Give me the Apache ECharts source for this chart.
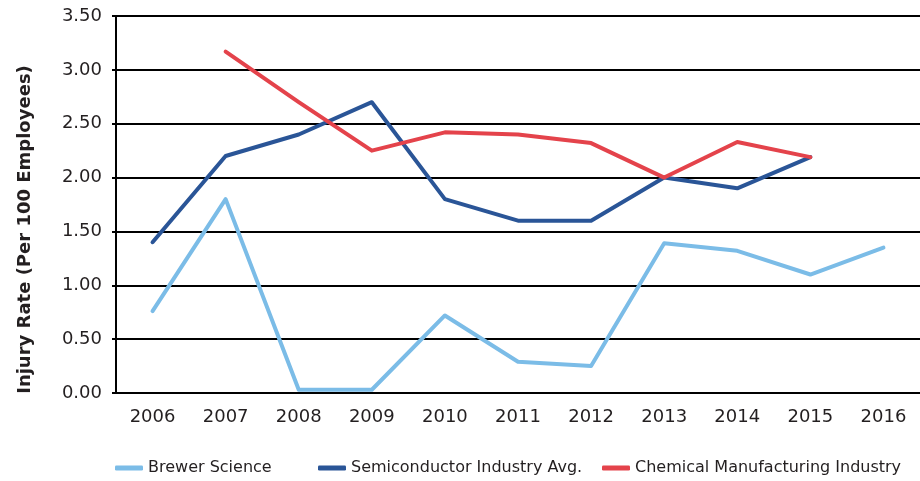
<!DOCTYPE html>
<html>
<head>
<meta charset="utf-8">
<script src="https://cdn.jsdelivr.net/npm/echarts@6/dist/echarts.min.js"></script>
<style>
  html, body { margin: 0; padding: 0; background: #fff; }
  #chart { width: 920px; height: 481px; }
</style>
</head>
<body>
<div id="chart"></div>
<script>
const years = ["2006", "2007", "2008", "2009", "2010", "2011", "2012", "2013", "2014", "2015", "2016"]
const brewer = [0.76, 1.80, 0.03, 0.03, 0.72, 0.29, 0.25, 1.39, 1.32, 1.10, 1.35]
const semiconductor = [1.40, 2.20, 2.40, 2.70, 1.80, 1.60, 1.60, 2.00, 1.90, 2.19, null]
const chemical = [null, 3.17, 2.70, 2.25, 2.42, 2.40, 2.32, 2.00, 2.33, 2.19, null]

const font = "'DejaVu Sans', 'Noto Sans', sans-serif"
const textColor = "#231F20"
const chart = echarts.init(document.getElementById("chart"))

const lineSeries = (name, data, color) => ({
  name,
  type: "line",
  data,
  showSymbol: false,
  symbol: "none",
  lineStyle: { width: 4, color, cap: "round", join: "round" },
  itemStyle: { color },
})

// one legend per item so each sits where the reference puts it
const legendAt = (name, left) => ({
  left,
  top: 455,
  itemWidth: 28,
  itemHeight: 5,
  icon: "roundRect",
  textStyle: { fontSize: 16, color: textColor, fontFamily: font },
  data: [name],
})

chart.setOption({
  animation: false,
  textStyle: { fontFamily: font },
  grid: { left: 116, top: 16, width: 813, height: 377 },
  legend: [
    legendAt("Brewer Science", 110),
    legendAt("Semiconductor Industry Avg.", 313),
    legendAt("Chemical Manufacturing Industry", 597),
  ],
  xAxis: {
    type: "category",
    data: years,
    boundaryGap: true,
    axisLine: { lineStyle: { color: "#000", width: 2 } },
    axisTick: { length: 6, lineStyle: { color: "#000", width: 2 } },
    axisLabel: { color: textColor, fontSize: 18, margin: 15 },
  },
  yAxis: {
    type: "value",
    min: 0,
    max: 3.5,
    interval: 0.5,
    name: "Injury Rate (Per 100 Employees)",
    nameLocation: "middle",
    nameGap: 82,
    nameTextStyle: { fontSize: 18, fontWeight: "bold", color: textColor, padding: [0, 50, 0, 0] },
    axisLine: { show: true, lineStyle: { color: "#000", width: 2 } },
    axisTick: { show: true, length: 4, lineStyle: { color: "#000", width: 2 } },
    splitLine: { lineStyle: { color: "#000", width: 2 } },
    axisLabel: { color: textColor, fontSize: 18, margin: 14, formatter: (v) => v.toFixed(2) },
  },
  series: [
    lineSeries("Brewer Science", brewer, "#7BBCE7"),
    lineSeries("Semiconductor Industry Avg.", semiconductor, "#2A5597"),
    lineSeries("Chemical Manufacturing Industry", chemical, "#E4434B"),
  ],
})
</script>
</body>
</html>
